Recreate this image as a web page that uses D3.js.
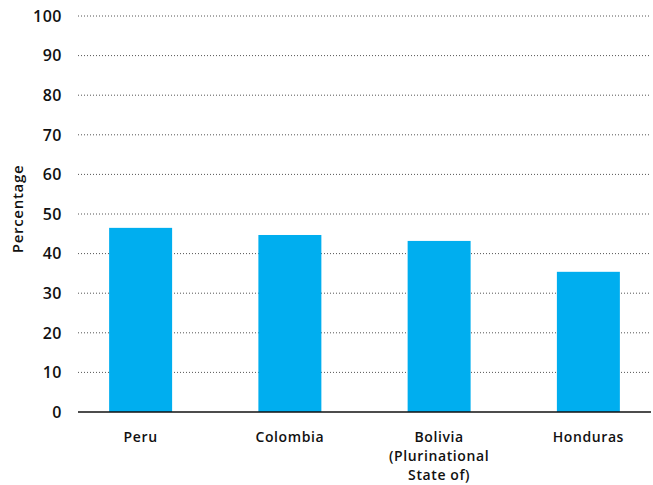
<!DOCTYPE html>
<html><head><meta charset="utf-8">
<script src="https://cdn.jsdelivr.net/npm/d3@7"></script>
<style>body{margin:0;background:#fff;} text{font-family:"Open Sans",sans-serif;fill:#111;}</style>
</head><body><svg id="c" width="653" height="485"></svg>
<script>
const categories = [["Peru"], ["Colombia"], ["Bolivia", "(Plurinational", "State of)"], ["Honduras"]];
const values = [46.5, 44.7, 43.2, 35.4];
const yTicks = [0, 10, 20, 30, 40, 50, 60, 70, 80, 90, 100];
const yTitle = "Percentage";

const svg = d3.select("#c");
const x = d3.scaleBand().domain(d3.range(categories.length)).range([66, 663]).paddingInner(0.578).paddingOuter(0.289);
const y = d3.scaleLinear().domain([0, 100]).range([412, 16]);
const left = 78, right = 651;

svg.append("g").selectAll("line").data(yTicks.filter(d => d > 0)).join("line")
  .attr("x1", left).attr("x2", right).attr("y1", d => y(d)).attr("y2", d => y(d))
  .attr("stroke", "#555").attr("stroke-width", 1).attr("stroke-dasharray", "1,2");

svg.append("g").selectAll("rect").data(values).join("rect")
  .attr("x", (d, i) => x(i)).attr("width", x.bandwidth())
  .attr("y", d => y(d)).attr("height", d => y(0) - y(d)).attr("fill", "#00AEEF");

svg.append("line").attr("x1", left).attr("x2", right).attr("y1", y(0)).attr("y2", y(0))
  .attr("stroke", "#111").attr("stroke-width", 1.3);

svg.append("g").selectAll("text").data(yTicks).join("text")
  .attr("x", 62).attr("y", d => y(d)).attr("dy", "0.36em").attr("text-anchor", "end")
  .style("font-size", "16px").style("font-weight", 600).style("letter-spacing", "0.5px").text(d => d);

const xl = svg.append("g").selectAll("text").data(categories).join("text")
  .attr("text-anchor", "middle").attr("x", (d, i) => x(i) + x.bandwidth() / 2).attr("y", 442)
  .style("font-size", "14px").style("font-weight", 600).style("letter-spacing", "0.6px");
xl.selectAll("tspan").data(d => d).join("tspan")
  .attr("x", function() { return this.parentNode.getAttribute("x"); })
  .attr("dy", (d, i) => i === 0 ? 0 : 19.2).text(d => d);

svg.append("text").attr("transform", "translate(23,209) rotate(-90)").attr("text-anchor", "middle")
  .style("font-size", "15px").style("font-weight", 600).style("letter-spacing", "0.7px").text(yTitle);
</script></body></html>
